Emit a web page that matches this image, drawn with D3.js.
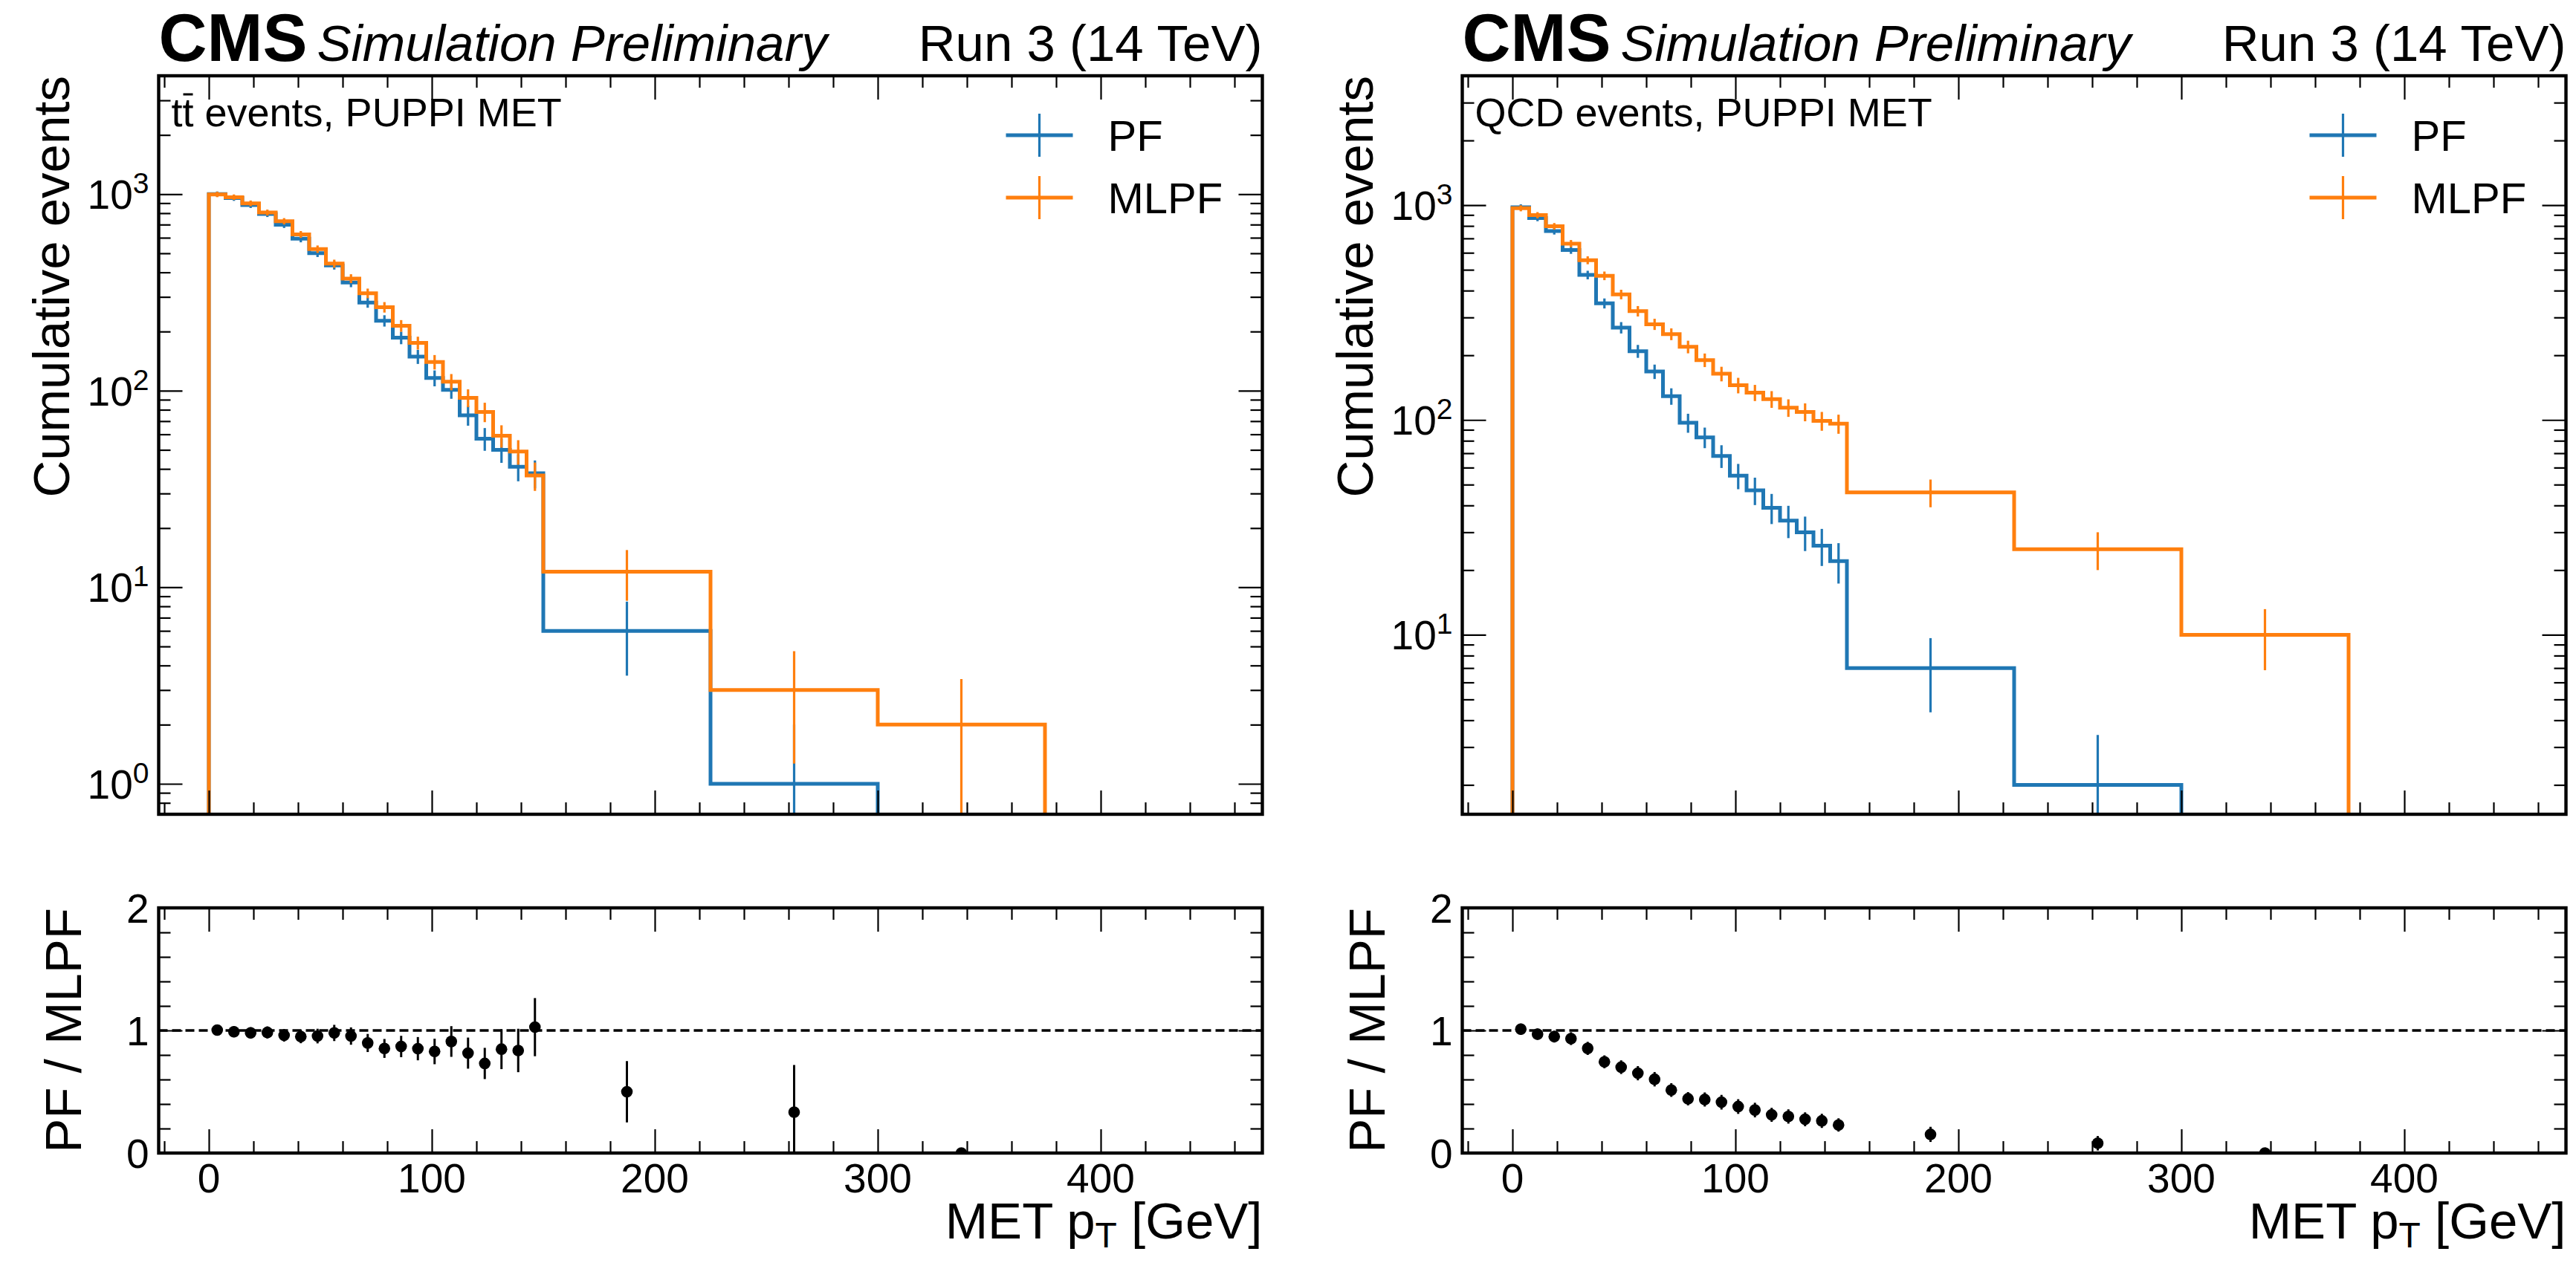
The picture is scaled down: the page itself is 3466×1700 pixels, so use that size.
<!DOCTYPE html>
<html>
<head>
<meta charset="utf-8">
<script src="https://cdn.jsdelivr.net/npm/d3@7"></script>
<style>
  body { margin: 0; background: #fff; }
  svg { display: block; }
  text { font-family: "Liberation Sans", Arial, Helvetica, sans-serif; fill: #000; }
</style>
</head>
<body>
<svg id="chart" width="3466" height="1700"></svg>
<script>
// bin edges of the MET histograms [GeV]
var binEdges = [0, 7.5, 15, 22.5, 30, 37.5, 45, 52.5, 60, 67.5, 75, 82.5, 90, 97.5,
                105, 112.5, 120, 127.5, 135, 142.5, 150, 225, 300, 375, 450];
var xMajorTicks = [0, 100, 200, 300, 400];
var ratioMajorTicks = [0, 1, 2];

// cumulative event counts per bin
var ttbarPF   = [1000, 955, 880, 793, 699, 593, 501, 434, 355, 281, 227, 186, 149, 116, 101, 75, 57, 50, 41, 38, 6, 1, 0, 0];
var ttbarMLPF = [997, 965, 898, 806, 728, 624, 525, 443, 372, 313, 266, 214, 175, 140, 111, 92, 78, 59, 49, 37, 12, 3, 2, 0];
var qcdPF     = [977, 871, 757, 618, 473, 349, 269, 209, 168, 129, 97, 83, 68, 55, 47, 39, 34, 30, 26, 22, 7, 2, 0, 0];
var qcdMLPF   = [967, 898, 797, 662, 554, 469, 384, 321, 279, 251, 219, 190, 164, 145, 134, 125, 114, 109, 99, 96, 46, 25, 10, 0];

var seriesNames = ["PF", "MLPF"];
var seriesColors = ["#1f77b4", "#ff7f0e"];

var panels = [
  {left: 213.5, yDomain: [0.7, 4000], pf: ttbarPF, mlpf: ttbarMLPF, process: "ttbar"},
  {left: 1967.5, yDomain: [1.46, 4000], pf: qcdPF, mlpf: qcdMLPF, process: "QCD"}
];

var axW = 1485, mainTop = 102, mainBottom = 1096, ratioTop = 1222, ratioBottom = 1552;
var svg = d3.select("#chart");

function addTicks(g, axis, tx, ty) {
  var a = g.append("g").attr("transform", "translate(" + tx + "," + ty + ")").call(axis);
  a.select(".domain").remove();
  a.selectAll(".tick text").remove();
  a.selectAll(".tick line").attr("stroke", "#000").attr("stroke-width", 2.2);
  return a;
}

panels.forEach(function(p, idx) {
  var right = p.left + axW;
  var x = d3.scaleLinear().domain([-22.5, 472.5]).range([p.left, right]);
  var y = d3.scaleLog().domain(p.yDomain).range([mainBottom, mainTop]);
  var yr = d3.scaleLinear().domain([0, 2]).range([ratioBottom, ratioTop]);
  var g = svg.append("g");

  var xMinor = x.ticks(25).filter(function(t) { return xMajorTicks.indexOf(t) < 0; });
  var yAll = y.ticks();
  var yMajor = yAll.filter(function(t) { return Math.abs(Math.log10(t) - Math.round(Math.log10(t))) < 1e-9; });
  var yMinor = yAll.filter(function(t) { return yMajor.indexOf(t) < 0; });
  var rMinor = yr.ticks(10).filter(function(t) { return ratioMajorTicks.indexOf(t) < 0; });

  // clip paths
  var clipMain = "clipMain" + idx, clipRatio = "clipRatio" + idx;
  var defs = svg.append("defs");
  defs.append("clipPath").attr("id", clipMain).append("rect")
    .attr("x", p.left).attr("y", mainTop).attr("width", axW).attr("height", mainBottom - mainTop);
  defs.append("clipPath").attr("id", clipRatio).append("rect")
    .attr("x", p.left).attr("y", ratioTop).attr("width", axW).attr("height", ratioBottom - ratioTop);

  // ---- main panel: histograms ----
  var dataG = g.append("g").attr("clip-path", "url(#" + clipMain + ")");
  [p.pf, p.mlpf].forEach(function(vals, s) {
    var last = -1;
    vals.forEach(function(v, i) { if (v > 0) last = i; });
    var below = mainBottom + 30;
    var pts = [[x(binEdges[0]), below]];
    for (var i = 0; i <= last; i++) {
      var yy = vals[i] > 0 ? y(vals[i]) : below;
      pts.push([x(binEdges[i]), yy]);
      pts.push([x(binEdges[i + 1]), yy]);
    }
    pts.push([x(binEdges[last + 1]), below]);
    dataG.append("path")
      .attr("d", d3.line()(pts))
      .attr("fill", "none")
      .attr("stroke", seriesColors[s])
      .attr("stroke-width", 5)
      .attr("stroke-linejoin", "miter");

    var errs = vals.map(function(v, i) { return {v: v, c: (binEdges[i] + binEdges[i + 1]) / 2}; })
      .filter(function(d) { return d.v > 0; });
    dataG.selectAll(null).data(errs).enter().append("line")
      .attr("x1", function(d) { return x(d.c); })
      .attr("x2", function(d) { return x(d.c); })
      .attr("y1", function(d) { return y(d.v + Math.sqrt(d.v)); })
      .attr("y2", function(d) {
        var lo = d.v - Math.sqrt(d.v);
        return lo > 0 ? y(lo) : mainBottom + 30;
      })
      .attr("stroke", seriesColors[s])
      .attr("stroke-width", 3.2);
  });

  // ---- ratio panel ----
  var ratioG = g.append("g").attr("clip-path", "url(#" + clipRatio + ")");
  ratioG.append("line")
    .attr("x1", p.left).attr("x2", right)
    .attr("y1", yr(1)).attr("y2", yr(1))
    .attr("stroke", "#000").attr("stroke-width", 3.6)
    .attr("stroke-dasharray", "12,6");
  var ratios = [];
  p.pf.forEach(function(a, i) {
    var b = p.mlpf[i];
    if (b > 0) {
      var r = a / b;
      var e = a > 0 ? r * Math.sqrt(1 / a + 1 / b) : 0;
      ratios.push({c: (binEdges[i] + binEdges[i + 1]) / 2, r: r, e: e});
    }
  });
  ratioG.selectAll(null).data(ratios).enter().append("line")
    .attr("x1", function(d) { return x(d.c); })
    .attr("x2", function(d) { return x(d.c); })
    .attr("y1", function(d) { return yr(d.r + d.e); })
    .attr("y2", function(d) { return yr(d.r - d.e); })
    .attr("stroke", "#000").attr("stroke-width", 3);
  ratioG.selectAll(null).data(ratios).enter().append("circle")
    .attr("cx", function(d) { return x(d.c); })
    .attr("cy", function(d) { return yr(d.r); })
    .attr("r", 7.8)
    .attr("fill", "#000");

  // ---- ticks ----
  [[mainTop, mainBottom], [ratioTop, ratioBottom]].forEach(function(tb) {
    addTicks(g, d3.axisBottom(x).tickValues(xMajorTicks).tickSize(-32), 0, tb[1]);
    addTicks(g, d3.axisBottom(x).tickValues(xMinor).tickSize(-16), 0, tb[1]);
    addTicks(g, d3.axisTop(x).tickValues(xMajorTicks).tickSize(-32), 0, tb[0]);
    addTicks(g, d3.axisTop(x).tickValues(xMinor).tickSize(-16), 0, tb[0]);
  });
  addTicks(g, d3.axisLeft(y).tickValues(yMajor).tickSize(-32), p.left, 0);
  addTicks(g, d3.axisLeft(y).tickValues(yMinor).tickSize(-16), p.left, 0);
  addTicks(g, d3.axisRight(y).tickValues(yMajor).tickSize(-32), right, 0);
  addTicks(g, d3.axisRight(y).tickValues(yMinor).tickSize(-16), right, 0);
  addTicks(g, d3.axisLeft(yr).tickValues(ratioMajorTicks).tickSize(-32), p.left, 0);
  addTicks(g, d3.axisLeft(yr).tickValues(rMinor).tickSize(-16), p.left, 0);
  addTicks(g, d3.axisRight(yr).tickValues(ratioMajorTicks).tickSize(-32), right, 0);
  addTicks(g, d3.axisRight(yr).tickValues(rMinor).tickSize(-16), right, 0);

  // frames
  [[mainTop, mainBottom], [ratioTop, ratioBottom]].forEach(function(tb) {
    g.append("rect")
      .attr("x", p.left).attr("y", tb[0])
      .attr("width", axW).attr("height", tb[1] - tb[0])
      .attr("fill", "none").attr("stroke", "#000").attr("stroke-width", 4.4);
  });

  // ---- tick labels ----
  yMajor.forEach(function(t) {
    var tx = g.append("text")
      .attr("x", p.left - 13).attr("y", y(t) + 20)
      .attr("text-anchor", "end").style("font-size", "55px");
    tx.append("tspan").text("10");
    tx.append("tspan").attr("dy", -21).style("font-size", "39px").text(String(Math.round(Math.log10(t))));
  });
  ratioMajorTicks.forEach(function(t) {
    g.append("text")
      .attr("x", p.left - 13).attr("y", yr(t) + 20)
      .attr("text-anchor", "end").style("font-size", "55px")
      .text(t);
  });
  xMajorTicks.forEach(function(t) {
    g.append("text")
      .attr("x", x(t)).attr("y", 1605)
      .attr("text-anchor", "middle").style("font-size", "55px")
      .text(t);
  });

  // ---- axis labels ----
  g.append("text")
    .attr("transform", "translate(" + (p.left - 121) + "," + mainTop + ") rotate(-90)")
    .attr("text-anchor", "end").style("font-size", "69px")
    .text("Cumulative events");
  g.append("text")
    .attr("transform", "translate(" + (p.left - 105) + "," + ratioTop + ") rotate(-90)")
    .attr("text-anchor", "end").style("font-size", "69px")
    .text("PF / MLPF");
  var xl = g.append("text")
    .attr("x", right).attr("y", 1667)
    .attr("text-anchor", "end").style("font-size", "69px");
  xl.append("tspan").text("MET p");
  xl.append("tspan").attr("dy", 12).style("font-size", "48px").text("T");
  xl.append("tspan").attr("dy", -12).text(" [GeV]");

  // ---- header ----
  g.append("text").attr("x", p.left).attr("y", 82)
    .style("font-size", "90px").style("font-weight", "bold").text("CMS");
  g.append("text").attr("x", p.left + 213).attr("y", 82)
    .style("font-size", "69px").style("font-style", "italic").text("Simulation Preliminary");
  g.append("text").attr("x", right).attr("y", 82)
    .attr("text-anchor", "end").style("font-size", "69px").text("Run 3 (14 TeV)");

  // ---- process annotation ----
  var ann = g.append("text").attr("x", p.left + 17).attr("y", 170).style("font-size", "54px");
  if (p.process === "ttbar") {
    ann.text("tt events, PUPPI MET");
    var ext = ann.node().getExtentOfChar(1);
    g.append("line")
      .attr("x1", ext.x + 1).attr("x2", ext.x + ext.width - 1)
      .attr("y1", 127).attr("y2", 127)
      .attr("stroke", "#000").attr("stroke-width", 3);
  } else {
    ann.text("QCD events, PUPPI MET");
  }

  // ---- legend ----
  seriesNames.forEach(function(name, s) {
    var cy = 182 + s * 84;
    g.append("line")
      .attr("x1", right - 345).attr("x2", right - 255)
      .attr("y1", cy).attr("y2", cy)
      .attr("stroke", seriesColors[s]).attr("stroke-width", 5);
    g.append("line")
      .attr("x1", right - 300).attr("x2", right - 300)
      .attr("y1", cy - 29).attr("y2", cy + 29)
      .attr("stroke", seriesColors[s]).attr("stroke-width", 3.2);
    g.append("text")
      .attr("x", right - 208).attr("y", cy + 21)
      .style("font-size", "58px").text(name);
  });
});
</script>
</body>
</html>
